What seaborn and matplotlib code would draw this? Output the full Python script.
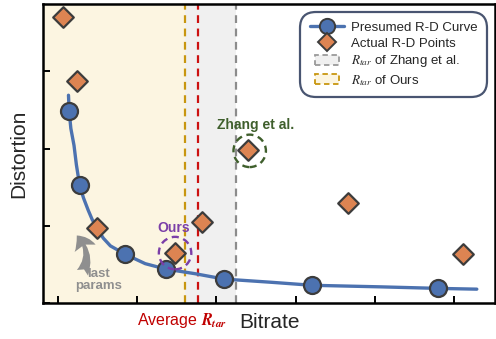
import numpy as np
import pandas as pd
import matplotlib
matplotlib.use("Agg")
import matplotlib.pyplot as plt
import matplotlib.transforms as mtransforms
from matplotlib.lines import Line2D
from matplotlib.patches import Patch, Ellipse, FancyArrowPatch, Rectangle
from matplotlib.legend_handler import HandlerPatch
import seaborn as sns

# Presumed R-D curve
curve_rate = [1.13, 1.14, 1.16, 1.20, 1.23, 1.27, 1.32, 1.38, 1.43, 1.49, 1.57,
              1.66, 1.85, 2.10, 2.36, 2.73, 3.10, 3.68, 4.21, 5.07, 5.80, 6.29]
curve_dist = [2.69, 2.47, 2.26, 2.04, 1.79, 1.53, 1.36, 1.20, 1.08, 0.97, 0.84,
              0.74, 0.63, 0.51, 0.44, 0.38, 0.31, 0.27, 0.23, 0.21, 0.19, 0.18]

# Points sitting on the presumed curve
presumed_rate = [1.14, 1.27, 1.84, 2.36, 3.10, 4.21, 5.80]
presumed_dist = [2.48, 1.53, 0.63, 0.44, 0.31, 0.23, 0.19]

# Actual R-D points
actual_rate = [1.06, 1.24, 1.49, 2.47, 2.82, 3.40, 4.66, 6.11]
actual_dist = [3.70, 2.87, 0.97, 0.65, 1.05, 1.98, 1.29, 0.63]

# Target rates
r_tar_ours = 2.60
r_tar_avg = 2.77
r_tar_zhang = 3.25

sns.set_theme(style="ticks")
plt.rcParams["font.family"] = ["Liberation Sans", "DejaVu Sans"]
plt.rcParams["mathtext.fontset"] = "stix"

blue = "#4c72b0"
orange = "#dd8452"
edge = "#3c3c3c"
gold = "#c8960f"
red = "#cc1111"
gray = "#8c8c8c"

fig = plt.figure(figsize=(4.96, 3.39), dpi=100)
ax = fig.add_axes([0.087, 0.106, 0.911, 0.882])

xmin, xmax = 0.81, 6.52
ax.set_xlim(xmin, xmax)
ax.set_ylim(0, 3.87)

# shaded target regions
ax.axvspan(xmin, r_tar_ours, color="#fcf5e1", lw=0, zorder=0)
ax.axvspan(r_tar_ours, r_tar_zhang, color="#f0f0f0", lw=0, zorder=0)
ax.axvline(r_tar_ours, color=gold, ls=(0, (3.5, 2.5)), lw=1.6, zorder=1)
ax.axvline(r_tar_avg, color=red, ls=(0, (3.5, 2.5)), lw=1.6, zorder=1)
ax.axvline(r_tar_zhang, color=gray, ls=(0, (3.5, 2.5)), lw=1.6, zorder=1)

curve = pd.DataFrame({"rate": curve_rate, "dist": curve_dist})
sns.lineplot(data=curve, x="rate", y="dist", sort=False, color=blue, lw=2.4,
             ax=ax, zorder=3)
sns.scatterplot(x=presumed_rate, y=presumed_dist, marker="o", s=150, color=blue,
                edgecolor=edge, linewidth=1.6, ax=ax, zorder=4)
sns.scatterplot(x=actual_rate, y=actual_dist, marker="D", s=110, color=orange,
                edgecolor=edge, linewidth=1.6, ax=ax, zorder=5)

# highlight circles
ax.add_patch(Ellipse((2.477, 0.647), 0.41, 0.42, fill=False, ec="#7b3fa8",
                     ls=(0, (3, 2)), lw=1.7, zorder=6))
ax.add_patch(Ellipse((3.42, 1.97), 0.41, 0.42, fill=False, ec="#3f5f2c",
                     ls=(0, (3, 2)), lw=1.7, zorder=6))
ax.text(2.465, 0.97, "Ours", color="#7b3fa8", fontsize=10, fontweight="bold",
        ha="center", va="center")
ax.text(3.50, 2.30, "Zhang et al.", color="#3f5f2c", fontsize=10,
        fontweight="bold", ha="center", va="center")

# last params arrow
ax.add_patch(FancyArrowPatch((1.29, 0.36), (1.21, 0.90),
                             connectionstyle="arc3,rad=0.4",
                             arrowstyle="fancy,head_width=16,head_length=11,tail_width=9",
                             color="#8f8f8f", lw=0, zorder=2))
ax.text(1.515, 0.30, "last\nparams", color="#8f8f8f", fontsize=9.5,
        fontweight="bold", ha="center", va="center", linespacing=0.95)

# axes styling
ax.set_xticks([1, 2, 3, 4, 5, 6])
ax.set_yticks([0, 1, 2, 3])
ax.set_xticklabels([])
ax.set_yticklabels([])
ax.tick_params(direction="in", length=5, width=1.4, color="black")
for sp in ax.spines.values():
    sp.set_linewidth(1.8)
    sp.set_color("black")
ax.set_xlabel("Bitrate", fontsize=15, labelpad=4)
ax.set_ylabel("Distortion", fontsize=15, labelpad=7)

trans = mtransforms.blended_transform_factory(ax.transData, ax.transAxes)
ax.text(2.565, -0.058, r"Average $\mathbfit{R}_{\mathbfit{tar}}$", color="#c00000",
        fontsize=11.5, ha="center", va="center", transform=trans)


def small_box(legend, orig_handle, xdescent, ydescent, width, height, fontsize):
    w = width * 0.7
    return Rectangle((-xdescent + (width - w) / 2, -ydescent), w, height)


handles = [
    Line2D([], [], color=blue, lw=2.4, marker="o", markersize=11,
           markerfacecolor=blue, markeredgecolor=edge, markeredgewidth=1.4),
    Line2D([], [], ls="none", marker="D", markersize=9, markerfacecolor=orange,
           markeredgecolor=edge, markeredgewidth=1.4),
    Patch(facecolor="#f0f0f0", edgecolor="#9a9a9a", ls=(0, (3, 2)), lw=1.3),
    Patch(facecolor="#fcf5e1", edgecolor=gold, ls=(0, (3, 2)), lw=1.3),
]
labels = ["Presumed R-D Curve", "Actual R-D Points",
          r"$R_{tar}$ of Zhang et al.", r"$R_{tar}$ of Ours"]
leg = ax.legend(handles, labels, loc="upper right", fontsize=9.5, frameon=True,
                fancybox=True, handlelength=2.6, handleheight=0.85,
                labelspacing=0.25, borderaxespad=0.6, handletextpad=0.55,
                borderpad=0.7,
                handler_map={Patch: HandlerPatch(patch_func=small_box)})
leg.get_frame().set_edgecolor("#1c2b4d")
leg.get_frame().set_linewidth(1.6)
leg.get_frame().set_boxstyle("round,pad=0,rounding_size=1.2")

fig.savefig("out.png", dpi=100)
